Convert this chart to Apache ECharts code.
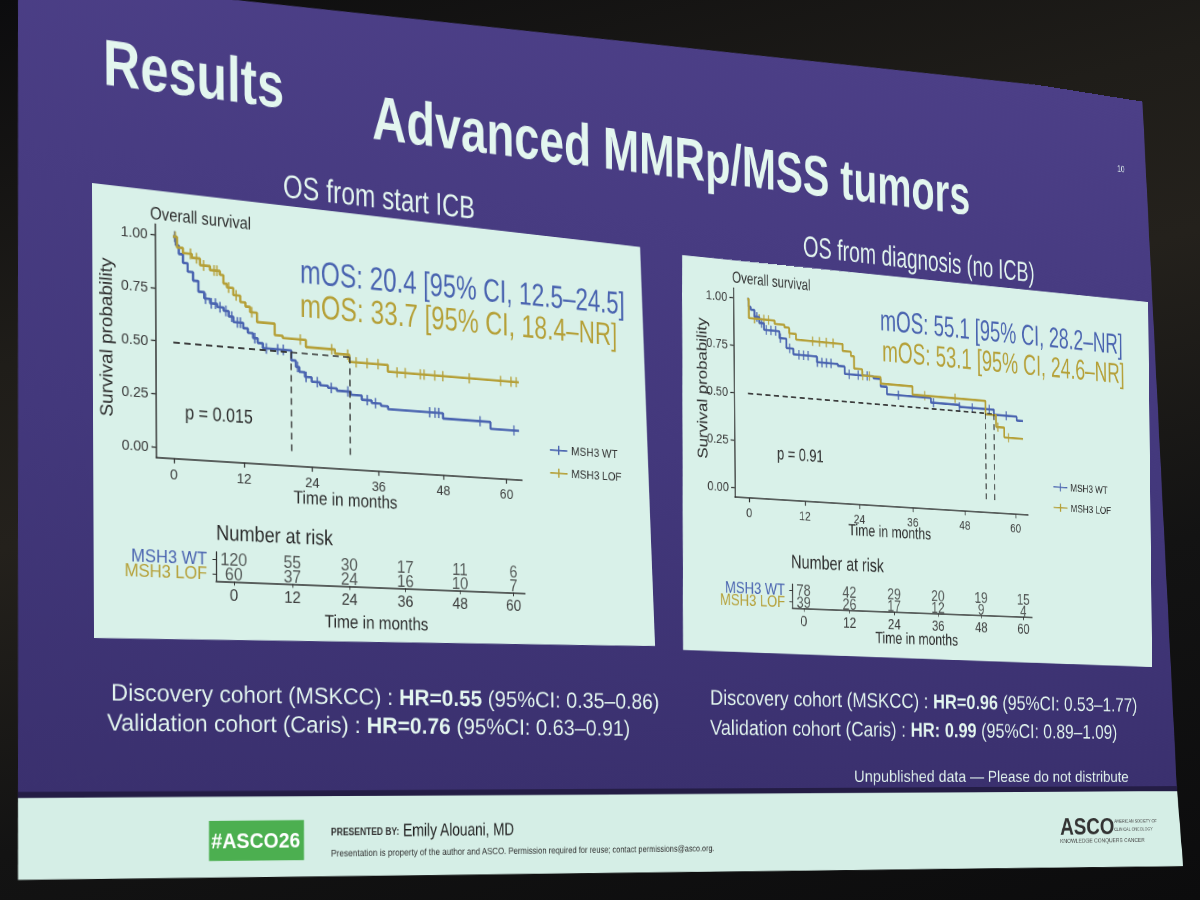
<!DOCTYPE html>
<html>
<head>
<meta charset="utf-8">
<title>Advanced MMRp/MSS tumors</title>
<script src="https://cdn.jsdelivr.net/npm/echarts@6/dist/echarts.min.js"></script>
<style>
  html, body { margin: 0; padding: 0; width: 1200px; height: 900px; overflow: hidden; }
  body { background: linear-gradient(165deg, #0c0c0e 0%, #1f1d19 30%, #24211c 45%, #131313 70%, #0c0c0d 100%); position: relative; }
  #slide { position: absolute; left: 0; top: 0; width: 1800px; height: 1100px; transform-origin: 0 0; }
</style>
</head>
<body>
<div id="slide"></div>
<script>
// ---- data ----
const timeTicks = [0, 12, 24, 36, 48, 60]
const probTicks = [0, 0.25, 0.5, 0.75, 1]
const riskGroups = ['MSH3 WT', 'MSH3 LOF']

// OS from start ICB  [month, survival]
const icbWT = [[0, 1.00], [0.5, 0.96], [1, 0.92], [1.7, 0.88], [2.5, 0.84], [3.4, 0.80], [4.3, 0.75], [5.3, 0.72], [6.3, 0.70], [7.5, 0.685], [8.6, 0.67], [9.5, 0.645], [10.3, 0.62], [12, 0.595], [12.8, 0.575], [13.7, 0.552], [14.5, 0.53], [15.4, 0.507], [20.4, 0.46], [21.2, 0.43], [21.8, 0.407], [22.8, 0.385], [24, 0.364], [25.5, 0.35], [26.9, 0.341], [28.5, 0.33], [31, 0.315], [33, 0.295], [34.8, 0.283], [36.5, 0.272], [37.8, 0.258], [48, 0.232], [57, 0.198], [62.5, 0.198]]
const icbLOF = [[0, 1.00], [0.7, 0.95], [1.7, 0.926], [3.2, 0.908], [4.6, 0.877], [6.3, 0.858], [8, 0.84], [8.6, 0.80], [9.2, 0.783], [10.3, 0.749], [11.5, 0.719], [12.4, 0.70], [13.2, 0.675], [14.4, 0.63], [17.5, 0.575], [18.9, 0.564], [23, 0.53], [28.2, 0.51], [30.8, 0.476], [37.8, 0.443], [62.5, 0.443]]
const icbCensorWT = [0.3, 5.5, 6.5, 7.2, 8, 9, 10, 11, 11.5, 14, 16, 18, 19, 21.5, 23, 25, 27.5, 30.5, 34, 35.5, 45.5, 46.5, 47.2, 55, 61.5]
const icbCensorLOF = [0.4, 3, 4, 5.2, 7, 7.5, 9.5, 10.8, 13.5, 22, 27.6, 30.5, 32, 34, 36, 39.5, 41, 43.8, 44.5, 46.5, 48, 53, 59, 61, 62]
const icbRiskWT = [120, 55, 30, 17, 11, 6]
const icbRiskLOF = [60, 37, 24, 16, 10, 7]

// OS from diagnosis (no ICB)
const dxWT = [[0, 1.00], [0.3, 0.96], [0.7, 0.945], [1.5, 0.91], [2.5, 0.88], [3.5, 0.846], [6.8, 0.81], [8.3, 0.76], [9.8, 0.73], [14.9, 0.70], [19.5, 0.69], [21, 0.65], [27.4, 0.64], [29, 0.60], [30.4, 0.56], [40.4, 0.535], [47, 0.525], [55.1, 0.497], [60.5, 0.475], [62, 0.475]]
const dxLOF = [[0, 1.00], [0.3, 0.90], [5.8, 0.883], [7.9, 0.87], [8.9, 0.84], [10.4, 0.81], [20.6, 0.773], [22.4, 0.75], [23.1, 0.684], [24.9, 0.65], [29, 0.615], [36.2, 0.57], [53.1, 0.495], [55.6, 0.43], [57.5, 0.375], [62, 0.375]]
const dxCensorWT = [2, 3, 4, 5, 6, 7, 9, 11, 12, 13, 15, 16, 17, 18, 22, 24, 26, 33, 41, 47, 50, 54, 58]
const dxCensorLOF = [1.5, 2.5, 3.5, 4.5, 9, 14, 15.5, 17, 18.5, 25, 26.5, 39, 46, 56, 58.5]
const dxRiskWT = [78, 42, 29, 20, 19, 15]
const dxRiskLOF = [39, 26, 17, 12, 9, 4]

// ---- look ----
const FONT = '"Liberation Sans", Arial, sans-serif'
const BLUE = '#4a64b0'
const GOLD = '#b5a038'
const INK = '#2e2e2e'
const PANEL = '#d9f1e9'
const SLIDE_TXT = '#e3f6ef'

// ---- the photo is taken at an angle: map the flat slide onto it ----
// plot block corners in the photo (left panel TL, right panel TR, right panel BR, left panel BL)
const quad = [[92, 183], [1148, 302], [1152, 667], [94, 638]]
const box = { x: 150, y: 250, w: 1400, h: 455 }

function squareToQuad(q) {
  const [x0, y0] = q[0], [x1, y1] = q[1], [x2, y2] = q[2], [x3, y3] = q[3]
  const dx1 = x1 - x2, dx2 = x3 - x2, dx3 = x0 - x1 + x2 - x3
  const dy1 = y1 - y2, dy2 = y3 - y2, dy3 = y0 - y1 + y2 - y3
  const den = dx1 * dy2 - dx2 * dy1
  const g = (dx3 * dy2 - dx2 * dy3) / den
  const h = (dx1 * dy3 - dx3 * dy1) / den
  return [[x1 - x0 + g * x1, x3 - x0 + h * x3, x0], [y1 - y0 + g * y1, y3 - y0 + h * y3, y0], [g, h, 1]]
}
function mul(a, b) {
  return a.map((r, i) => [0, 1, 2].map(j => r[0] * b[0][j] + r[1] * b[1][j] + r[2] * b[2][j]))
}
function inv(m) {
  const [[a, b, c], [d, e, f], [g, h, i]] = m
  const A = e * i - f * h, B = -(d * i - f * g), C = d * h - e * g
  const det = a * A + b * B + c * C
  return [[A / det, -(b * i - c * h) / det, (b * f - c * e) / det],
    [B / det, (a * i - c * g) / det, -(a * f - c * d) / det],
    [C / det, -(a * h - b * g) / det, (a * e - b * d) / det]]
}
const M = mul(squareToQuad(quad), [[1 / box.w, 0, -box.x / box.w], [0, 1 / box.h, -box.y / box.h], [0, 0, 1]])
const Minv = inv(M)
// photo point -> slide point
function S(px, py) {
  const X = Minv[0][0] * px + Minv[0][1] * py + Minv[0][2]
  const Y = Minv[1][0] * px + Minv[1][1] * py + Minv[1][2]
  const W = Minv[2][0] * px + Minv[2][1] * py + Minv[2][2]
  return [X / W, Y / W]
}
const slideEl = document.getElementById('slide')
slideEl.style.transform = 'matrix3d(' + [M[0][0], M[1][0], 0, M[2][0], M[0][1], M[1][1], 0, M[2][1], 0, 0, 1, 0, M[0][2], M[1][2], 0, M[2][2]].join(',') + ')'

function gridBox(tl, br) {
  const a = S(tl[0], tl[1]), b = S(br[0], br[1])
  return { left: a[0], top: a[1], width: b[0] - a[0], height: b[1] - a[1] }
}
function place(p) {
  const a = S(p[0], p[1])
  return { left: a[0], top: a[1] }
}
function poly(pts, fill, z) {
  return { type: 'polygon', z: z, silent: true, shape: { points: pts.map(p => S(p[0], p[1])) }, style: { fill: fill } }
}
// sx: horizontal squeeze so the text keeps its height but matches the photo's width
function txt(p, text, size, o) {
  o = o || {}
  const a = S(p[0], p[1])
  return {
    type: 'text', x: a[0], y: a[1], rotation: o.rotation || 0, scaleX: o.sx || 1, z: 30, silent: true,
    style: Object.assign({
      text: text, fill: o.color || INK, fontSize: size, fontFamily: FONT,
      fontWeight: o.bold ? 'bold' : 'normal', align: o.align || 'left', verticalAlign: 'middle'
    }, o.style || {})
  }
}
function cohort(p, pre, hr, post, sx) {
  const base = { fill: SLIDE_TXT, fontSize: 24, fontFamily: FONT }
  return txt(p, '{n|' + pre + '}{b|' + hr + '}{n|' + post + '}', 24, {
    sx: sx,
    style: { rich: { n: base, b: Object.assign({}, base, { fontWeight: 'bold' }) } }
  })
}

// ---- Kaplan-Meier helpers ----
function survAt(curve, t) {
  let s = curve[0][1]
  for (const d of curve) { if (d[0] <= t) s = d[1]; else break }
  return s
}
function median(curve) {
  const p = curve.find(d => d[1] <= 0.5)
  return p ? p[0] : null
}

const grids = [
  gridBox([155, 224], [522, 480]),   // KM, start ICB
  gridBox([733, 288], [1028, 515]),  // KM, diagnosis
  gridBox([216, 552], [525, 593]),   // risk table, start ICB
  gridBox([792, 584], [1032, 617])   // risk table, diagnosis
]

function kmX(i) {
  return {
    type: 'value', gridIndex: i, min: -3, max: 63,
    axisLine: { show: true, onZero: false, lineStyle: { color: INK, width: 1.5 } },
    axisTick: { show: true, length: 5, customValues: timeTicks, lineStyle: { color: INK, width: 1.3 } },
    axisLabel: { customValues: timeTicks, fontSize: 15, color: '#3a3a3a', margin: 9, fontFamily: FONT },
    splitLine: { show: false }
  }
}
function kmY(i) {
  return {
    type: 'value', gridIndex: i, min: -0.05, max: 1.05,
    axisLine: { show: true, onZero: false, lineStyle: { color: INK, width: 1.5 } },
    axisTick: { show: true, length: 5, customValues: probTicks, lineStyle: { color: INK, width: 1.3 } },
    axisLabel: { customValues: probTicks, fontSize: 15, color: '#3a3a3a', margin: 8, fontFamily: FONT, formatter: v => v.toFixed(2) },
    splitLine: { show: false }
  }
}
function riskX(i, lo, hi) {
  return {
    type: 'value', gridIndex: i, min: lo, max: hi,
    axisLine: { show: true, onZero: false, lineStyle: { color: INK, width: 1.5 } },
    axisTick: { show: true, length: 4, customValues: timeTicks, lineStyle: { color: INK } },
    axisLabel: { customValues: timeTicks, fontSize: 17, color: '#3a3a3a', margin: 6, fontFamily: FONT },
    splitLine: { show: false }
  }
}
function riskY(i) {
  return {
    type: 'category', gridIndex: i, data: riskGroups, inverse: true,
    axisLine: { show: true, onZero: false, lineStyle: { color: INK, width: 1.3 } },
    axisTick: { show: true, alignWithLabel: true, interval: 0, length: 4, lineStyle: { color: INK } },
    axisLabel: { interval: 0, fontSize: 18, margin: 10, fontFamily: FONT, color: v => (v === 'MSH3 WT' ? BLUE : GOLD) },
    splitLine: { show: false }
  }
}

const medianStyle = { type: [7, 5], color: '#333', width: 1.5 }
function kmSeries(name, curve, color, gi) {
  const m = median(curve)
  return {
    name: name, type: 'line', step: 'end', xAxisIndex: gi, yAxisIndex: gi,
    data: curve, showSymbol: false, silent: true,
    lineStyle: { color: color, width: 2.6 }, itemStyle: { color: color },
    markLine: m == null ? undefined : {
      silent: true, symbol: ['none', 'none'], label: { show: false }, lineStyle: medianStyle,
      data: [
        [{ coord: [0, 0.5] }, { coord: [m, 0.5] }],
        [{ coord: [m, 0.5] }, { coord: [m, 0] }]
      ]
    }
  }
}
function censorSeries(name, curve, times, color, gi) {
  return {
    name: name, type: 'scatter', xAxisIndex: gi, yAxisIndex: gi, silent: true,
    symbol: 'rect', symbolSize: [2, 11],
    itemStyle: { color: color },
    data: times.map(t => [t, survAt(curve, t)])
  }
}
function riskSeries(gi, rowWT, rowLOF) {
  const data = []
  timeTicks.forEach((t, k) => { data.push([t, 0, rowWT[k]]); data.push([t, 1, rowLOF[k]]) })
  return {
    type: 'scatter', xAxisIndex: gi, yAxisIndex: gi, silent: true, symbolSize: 0,
    data: data,
    label: { show: true, position: 'inside', formatter: p => p.value[2], fontSize: 18, color: '#333', fontFamily: FONT }
  }
}

const CROSS = 'path://M0,4.3h22v1.6h-22z M10.2,0h1.6v10h-1.6z'
function legendAt(p) {
  return Object.assign({
    orient: 'vertical', data: ['MSH3 WT', 'MSH3 LOF'], icon: CROSS,
    itemWidth: 22, itemHeight: 11, itemGap: 12, selectedMode: false,
    textStyle: { fontSize: 13, color: INK, fontFamily: FONT }
  }, place(p))
}

const purple = {
  type: 'linear', x: 0, y: 0, x2: 0, y2: 1,
  colorStops: [{ offset: 0, color: '#4c3f87' }, { offset: 0.55, color: '#43387c' }, { offset: 1, color: '#3a306e' }]
}

const chart = echarts.init(slideEl, null, { renderer: 'svg' })

const option = {
  animation: false,
  grid: grids,
  xAxis: [kmX(0), kmX(1), riskX(2, -3.6, 62.6), riskX(3, -3, 62.5)],
  yAxis: [kmY(0), kmY(1), riskY(2), riskY(3)],
  legend: [legendAt([546, 439]), legendAt([1050, 477])],
  series: [
    kmSeries('MSH3 WT', icbWT, BLUE, 0),
    kmSeries('MSH3 LOF', icbLOF, GOLD, 0),
    censorSeries('WT censored', icbWT, icbCensorWT, BLUE, 0),
    censorSeries('LOF censored', icbLOF, icbCensorLOF, GOLD, 0),
    kmSeries('MSH3 WT', dxWT, BLUE, 1),
    kmSeries('MSH3 LOF', dxLOF, GOLD, 1),
    censorSeries('WT censored', dxWT, dxCensorWT, BLUE, 1),
    censorSeries('LOF censored', dxLOF, dxCensorLOF, GOLD, 1),
    riskSeries(2, icbRiskWT, icbRiskLOF),
    riskSeries(3, dxRiskWT, dxRiskLOF)
  ],
  graphic: {
    elements: [
      // slide, footer strip and the two plot panels
      poly([[18, -23], [1142, 96], [1177, 793], [18, 800]], purple, -20),
      poly([[18, 792], [1177, 786], [1177, 792], [18, 799]], '#241d45', -19),
      poly([[18, 798], [1177, 791], [1183, 866], [18, 880]], '#d5eee6', -19),
      poly([[92, 183], [640, 247], [655, 646], [94, 638]], PANEL, -18),
      poly([[682, 255], [1148, 302], [1152, 667], [683, 650]], PANEL, -18),

      // titles
      txt([103, 62], 'Results', 66, { bold: true, color: SLIDE_TXT, sx: 0.84 }),
      txt([372, 117], 'Advanced MMRp/MSS tumors', 66, { bold: true, color: SLIDE_TXT, sx: 0.86 }),
      txt([1117, 168], '10', 11, { color: SLIDE_TXT }),
      txt([283, 186], 'OS from start ICB', 34, { color: SLIDE_TXT, sx: 0.85 }),
      txt([803, 246], 'OS from diagnosis (no ICB)', 34, { color: SLIDE_TXT, sx: 0.83 }),

      // left plot
      txt([150, 213], 'Overall survival', 18, { sx: 0.91 }),
      txt([106, 337], 'Survival probability', 19, { align: 'center', rotation: Math.PI / 2 }),
      txt([300, 271], 'mOS: 20.4 [95% CI, 12.5–24.5]', 35, { color: BLUE, sx: 0.82 }),
      txt([300, 305], 'mOS: 33.7 [95% CI, 18.4–NR]', 35, { color: GOLD, sx: 0.83 }),
      txt([185, 412], 'p = 0.015', 20, { sx: 0.9 }),
      txt([346, 500], 'Time in months', 19, { align: 'center', sx: 0.94 }),
      txt([216, 532], 'Number at risk', 22, { sx: 0.93 }),
      txt([377, 623], 'Time in months', 19, { align: 'center', sx: 0.95 }),

      // right plot
      txt([732, 277], 'Overall survival', 18, { sx: 0.89 }),
      txt([702, 388], 'Survival probability', 19, { align: 'center', rotation: Math.PI / 2 }),
      txt([880, 320], 'mOS: 55.1 [95% CI, 28.2–NR]', 35, { color: BLUE, sx: 0.8 }),
      txt([882, 351], 'mOS: 53.1 [95% CI, 24.6–NR]', 35, { color: GOLD, sx: 0.8 }),
      txt([777, 453], 'p = 0.91', 20, { sx: 0.9 }),
      txt([890, 532], 'Time in months', 19, { align: 'center', sx: 0.94 }),
      txt([791, 561], 'Number at risk', 22, { sx: 0.93 }),
      txt([917, 639], 'Time in months', 19, { align: 'center', sx: 0.95 }),

      // hazard ratios
      cohort([111, 692], 'Discovery cohort (MSKCC) : ', 'HR=0.55', ' (95%CI: 0.35–0.86)', 1.055),
      cohort([107, 722], 'Validation cohort (Caris) : ', 'HR=0.76', ' (95%CI: 0.63–0.91)', 1.055),
      cohort([710, 697], 'Discovery cohort (MSKCC) : ', 'HR=0.96', ' (95%CI: 0.53–1.77)', 1.03),
      cohort([710, 727], 'Validation cohort (Caris) : ', 'HR: 0.99', ' (95%CI: 0.89–1.09)', 1.03),
      txt([854, 776], 'Unpublished data — Please do not distribute', 19, { color: SLIDE_TXT, sx: 1.12 }),

      // footer
      poly([[209, 821], [304, 820], [304, 860], [209, 861]], '#4caf50', -10),
      txt([256, 840], '#ASCO26', 22, { bold: true, color: '#ffffff', align: 'center' }),
      txt([331, 832], 'PRESENTED BY:', 10, { bold: true, color: '#333' }),
      txt([403, 830], 'Emily Alouani, MD', 19, { color: '#222', sx: 0.88 }),
      txt([331, 853], 'Presentation is property of the author and ASCO. Permission required for reuse; contact permissions@asco.org.', 10, { color: '#333', sx: 0.97 }),
      txt([1060, 826], 'ASCO', 30, { bold: true, color: '#333' }),
      txt([1114, 821], 'AMERICAN SOCIETY OF', 6, { color: '#444' }),
      txt([1114, 829], 'CLINICAL ONCOLOGY', 6, { color: '#444' }),
      txt([1060, 841], 'KNOWLEDGE CONQUERS CANCER', 8, { color: '#444' })
    ]
  }
}

chart.setOption(option)
</script>
</body>
</html>
